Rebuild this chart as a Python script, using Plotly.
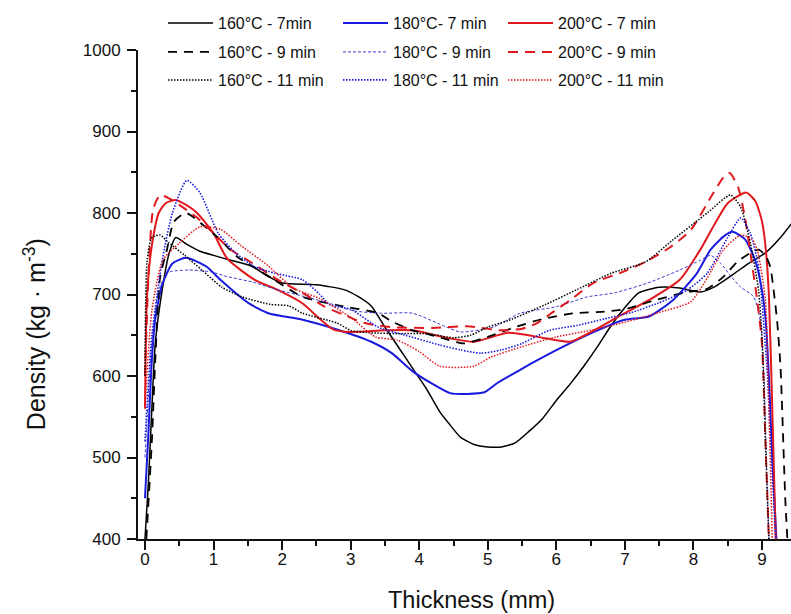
import plotly.graph_objects as go

# ---- data (thickness in mm, density in kg/m^3) ----
x_160_7 = [0.0,0.05,0.1,0.15,0.25,0.35,0.45,0.6,0.8,1.0,1.25,1.55,1.8,2.0,2.5,2.9,3.1,3.3,3.5,3.7,3.9,4.1,4.3,4.45,4.6,4.8,5.0,5.2,5.4,5.6,5.8,6.0,6.2,6.4,6.6,6.8,7.0,7.2,7.5,7.8,8.1,8.3,8.6,8.8,9.05,9.25,9.43]
y_160_7 = [400,470,560,640,705,750,770,762,753,748,742,735,722,714,712,706,698,686,660,635,610,585,556,540,525,516,513,513,518,532,548,570,590,612,636,662,684,702,709,708,703,709,726,738,751,768,787]

x_180_7 = [0.0,0.05,0.1,0.15,0.25,0.4,0.6,0.9,1.1,1.5,1.8,2.3,2.8,3.3,3.6,3.9,4.2,4.45,4.7,4.95,5.15,5.4,5.65,6.1,6.6,7.0,7.35,7.7,8.05,8.25,8.45,8.57,8.75,8.9,9.0,9.05,9.1,9.15,9.21]
y_180_7 = [450,530,620,670,712,738,745,734,718,690,677,669,657,642,628,606,590,579,578,580,592,604,616,636,656,669,673,693,726,755,772,777,768,742,705,672,600,500,400]

x_200_7 = [0.0,0.03,0.1,0.2,0.3,0.44,0.6,0.76,1.0,1.2,1.6,1.95,2.3,2.55,2.75,3.0,3.5,3.9,4.4,4.8,5.3,5.8,6.2,6.55,6.95,7.35,7.8,8.1,8.3,8.5,8.77,8.9,9.0,9.05,9.1,9.15,9.2]
y_200_7 = [560,700,760,800,812,816,810,800,775,744,718,705,689,670,657,654,656,656,647,642,653,647,642,656,675,693,718,755,785,812,825,815,790,760,700,560,400]

x_160_9 = [0.02,0.1,0.15,0.22,0.32,0.42,0.6,0.88,1.1,1.35,1.6,1.85,2.3,2.8,3.4,3.6,3.9,4.1,4.4,4.65,5.0,5.4,5.8,6.25,6.7,7.0,7.4,7.9,8.2,8.44,8.64,8.85,8.95,9.05,9.12,9.17,9.22,9.27,9.34,9.37]
y_160_9 = [400,520,620,721,755,789,800,783,767,746,733,720,697,687,677,667,656,652,645,640,648,660,670,677,679,682,692,703,707,722,740,752,755,748,734,705,668,611,448,400]

x_180_9 = [0.0,0.1,0.2,0.34,0.63,0.95,1.2,1.58,1.97,2.3,2.66,3.04,3.45,3.9,4.4,4.6,5.08,5.47,6.0,6.45,6.85,7.33,7.8,8.1,8.25,8.4,8.55,8.69,8.88,8.98,9.03,9.07,9.1]
y_180_9 = [500,640,705,727,730,728,722,715,705,698,690,680,677,677,660,654,660,677,685,697,702,714,730,742,748,738,722,709,697,665,600,480,400]

x_200_9 = [0.0,0.05,0.12,0.22,0.35,0.5,0.75,1.0,1.25,1.5,2.0,2.36,2.6,2.9,3.2,3.6,4.2,4.7,5.2,5.5,5.72,5.96,6.2,6.54,6.98,7.3,7.66,7.96,8.3,8.45,8.53,8.65,8.75,8.85,8.93,9.0,9.05,9.1]
y_200_9 = [600,720,805,822,818,810,795,775,755,742,715,699,686,675,665,660,659,661,656,658,665,679,693,714,728,740,758,779,826,845,849,832,795,740,693,640,520,400]

x_160_11 = [0.0,0.03,0.1,0.22,0.34,0.58,0.83,1.12,1.42,1.82,2.1,2.3,2.8,3.0,3.3,3.7,4.1,4.5,4.75,5.0,5.3,5.85,6.3,6.8,7.3,7.7,8.2,8.54,8.69,8.83,8.95,9.0,9.05,9.1]
y_160_11 = [600,740,770,773,764,748,730,709,697,688,686,677,665,656,653,652,652,647,650,660,668,688,706,726,740,767,800,822,807,763,705,648,520,400]

x_180_11 = [0.0,0.1,0.26,0.4,0.61,0.8,1.07,1.31,1.6,1.9,2.3,2.55,2.7,3.0,3.4,3.8,4.3,4.6,4.9,5.2,5.5,5.9,6.3,6.7,7.1,7.5,7.9,8.2,8.5,8.69,8.83,8.95,9.0,9.08,9.15,9.2]
y_180_11 = [520,650,746,800,840,825,775,752,734,726,718,700,687,682,660,650,638,632,628,632,640,656,662,670,678,690,705,726,770,794,775,734,690,600,480,400]

x_200_11 = [0.0,0.1,0.26,0.5,0.8,1.1,1.4,1.8,2.16,2.55,3.0,3.36,3.68,4.0,4.3,4.8,5.04,5.5,6.0,6.5,7.0,7.5,7.96,8.2,8.44,8.69,8.85,8.93,9.05,9.1,9.15]
y_200_11 = [560,680,742,763,783,780,760,735,708,695,672,648,644,630,612,612,623,636,648,656,666,678,691,720,755,773,768,755,693,560,400]

x_ticks = [0, 1, 2, 3, 4, 5, 6, 7, 8, 9]
y_ticks = [400, 500, 600, 700, 800, 900, 1000]
x_title = "Thickness (mm)"
y_title = "Density (kg · m<sup>-3</sup>)"

series = [
    ("160°C - 7min",    x_160_7,  y_160_7,  "#000000", 1.5, "solid"),
    ("180°C- 7 min",    x_180_7,  y_180_7,  "#1a1adf", 2.0, "solid"),
    ("200°C - 7 min",   x_200_7,  y_200_7,  "#e0191e", 2.0, "solid"),
    ("160°C - 9 min",   x_160_9,  y_160_9,  "#000000", 1.8, "9px,7px"),
    ("180°C - 9 min",   x_180_9,  y_180_9,  "#3a3ad0", 1.0, "3px,2px"),
    ("200°C - 9 min",   x_200_9,  y_200_9,  "#e0191e", 2.0, "10px,7px"),
    ("160°C - 11 min",  x_160_11, y_160_11, "#000000", 1.5, "1.5px,1.5px"),
    ("180°C - 11 min",  x_180_11, y_180_11, "#1a1adf", 1.6, "1.5px,1.5px"),
    ("200°C - 11 min",  x_200_11, y_200_11, "#e0191e", 1.5, "1.5px,1.5px"),
]

font_family = "Liberation Sans, Arial, sans-serif"

# legend grid: 3 columns x 3 rows (container pixel positions)
col_px = [163, 338, 503]
row_px = [23, 52, 80]
W, H = 791, 614

fig = go.Figure()
legends = {}
for i, (name, xs, ys, col, w, dash) in enumerate(series):
    lid = "legend" if i == 0 else f"legend{i + 1}"
    r, c = divmod(i, 3)
    legends[lid] = dict(
        xref="container", yref="container",
        x=col_px[c] / W, y=1 - row_px[r] / H,
        xanchor="left", yanchor="middle",
        itemwidth=45, orientation="v",
        font=dict(family=font_family, size=16, color="#111"),
        bgcolor="rgba(0,0,0,0)", borderwidth=0, itemclick=False,
    )
    fig.add_trace(go.Scatter(
        x=xs, y=ys, mode="lines", name=name, legend=lid,
        line=dict(color=col, width=w, dash=dash, shape="spline", smoothing=0.6),
    ))

fig.update_layout(
    width=W, height=H,
    margin=dict(l=138, r=0, t=50, b=75, autoexpand=False),
    paper_bgcolor="white", plot_bgcolor="white",
    font=dict(family=font_family, color="#111"),
    showlegend=True,
    xaxis=dict(
        range=[-0.102, 9.423], tickvals=x_ticks,
        ticks="outside", ticklen=9, tickwidth=1.5, tickcolor="#111",
        minor=dict(dtick=0.5, ticks="outside", ticklen=5, tickwidth=1.5, tickcolor="#111"),
        showline=True, linecolor="#111", linewidth=1.8,
        showgrid=False, zeroline=False, automargin=False,
        tickfont=dict(size=17, family=font_family), ticklabelstandoff=-5,
    ),
    yaxis=dict(
        range=[400, 1000], tickvals=y_ticks,
        ticks="outside", ticklen=9, tickwidth=1.5, tickcolor="#111",
        minor=dict(dtick=50, ticks="outside", ticklen=5, tickwidth=1.5, tickcolor="#111"),
        showline=True, linecolor="#111", linewidth=1.8,
        showgrid=False, zeroline=False, automargin=False,
        tickfont=dict(size=17, family=font_family), ticklabelstandoff=3,
    ),
    annotations=[
        dict(text=x_title, xref="paper", yref="paper", x=0.51, y=-0.124,
             xanchor="center", yanchor="middle", showarrow=False,
             font=dict(size=23.5, family=font_family, color="#111")),
        dict(text=y_title, xref="paper", yref="paper", x=-0.1577, y=0.419,
             xanchor="center", yanchor="middle", showarrow=False, textangle=-90,
             font=dict(size=25, family=font_family, color="#111")),
    ],
)
fig.update_layout(**legends)

fig.write_html("out.html", config={"responsive": False, "displayModeBar": False},
               post_script="document.body.style.margin='0';document.body.style.padding='0';")
